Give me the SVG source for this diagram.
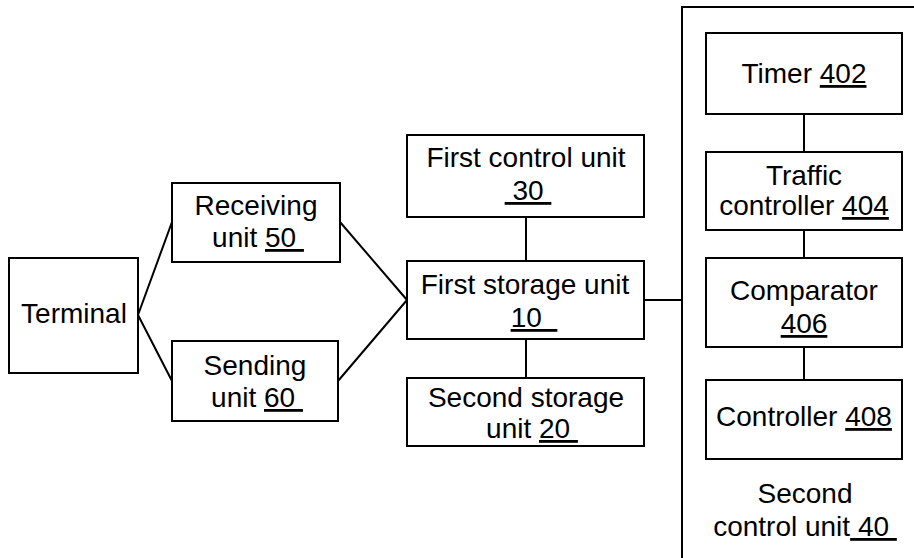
<svg xmlns="http://www.w3.org/2000/svg" width="914" height="558" viewBox="0 0 914 558">
<style>
.b{fill:#fff;stroke:#000;stroke-width:2}
.c line,.c path{stroke:#000;stroke-width:2;fill:none}
text{font-family:"Liberation Sans",Arial,sans-serif;font-size:28px;fill:#000;text-anchor:middle;white-space:pre}
.u{text-decoration:underline}
</style>
<rect width="914" height="558" fill="#fff"/>
<g id="second-control-unit-40">
<rect class="b" x="682" y="7" width="300" height="600"/>
<text x="805" y="503">Second</text>
<text x="805" y="536">control unit<tspan class="u"> 40 </tspan></text>
</g>
<g class="c" id="connectors">
<path d="M138 315 L172 222 M138 315 L172 381"/>
<path d="M340 222 L407 300 M338 381 L407 300"/>
<line x1="526" y1="217" x2="526" y2="261"/>
<line x1="526" y1="339" x2="526" y2="378"/>
<line x1="644" y1="300" x2="682" y2="300"/>
<line x1="804" y1="114" x2="804" y2="152"/>
<line x1="804" y1="230" x2="804" y2="258"/>
<line x1="804" y1="347" x2="804" y2="380"/>
</g>
<g id="terminal">
<rect class="b" x="9" y="258" width="129" height="115"/>
<text x="74" y="323">Terminal</text>
</g>
<g id="receiving-unit-50">
<rect class="b" x="172" y="183" width="168" height="79"/>
<text x="256" y="215">Receiving</text>
<text x="258" y="247">unit <tspan class="u">50 </tspan></text>
</g>
<g id="sending-unit-60">
<rect class="b" x="172" y="341" width="166" height="80"/>
<text x="255" y="375">Sending</text>
<text x="257" y="407">unit <tspan class="u">60 </tspan></text>
</g>
<g id="first-control-unit-30">
<rect class="b" x="407" y="135" width="237" height="82"/>
<text x="526" y="167">First control unit</text>
<text x="528" y="200"><tspan class="u"> 30 </tspan></text>
</g>
<g id="first-storage-unit-10">
<rect class="b" x="407" y="261" width="237" height="78"/>
<text x="525" y="294">First storage unit</text>
<text x="534" y="327"><tspan class="u">10  </tspan></text>
</g>
<g id="second-storage-unit-20">
<rect class="b" x="407" y="378" width="237" height="68"/>
<text x="526" y="407">Second storage</text>
<text x="532" y="438">unit <tspan class="u">20 </tspan></text>
</g>
<g id="timer-402">
<rect class="b" x="706" y="33" width="196" height="81"/>
<text x="804" y="83">Timer <tspan class="u">402</tspan></text>
</g>
<g id="traffic-controller-404">
<rect class="b" x="706" y="152" width="196" height="78"/>
<text x="804" y="185">Traffic</text>
<text x="804" y="215">controller <tspan class="u">404</tspan></text>
</g>
<g id="comparator-406">
<rect class="b" x="706" y="258" width="196" height="89"/>
<text x="804" y="300">Comparator</text>
<text x="804" y="333"><tspan class="u">406</tspan></text>
</g>
<g id="controller-408">
<rect class="b" x="706" y="380" width="196" height="79"/>
<text x="804" y="426">Controller <tspan class="u">408</tspan></text>
</g>
</svg>
